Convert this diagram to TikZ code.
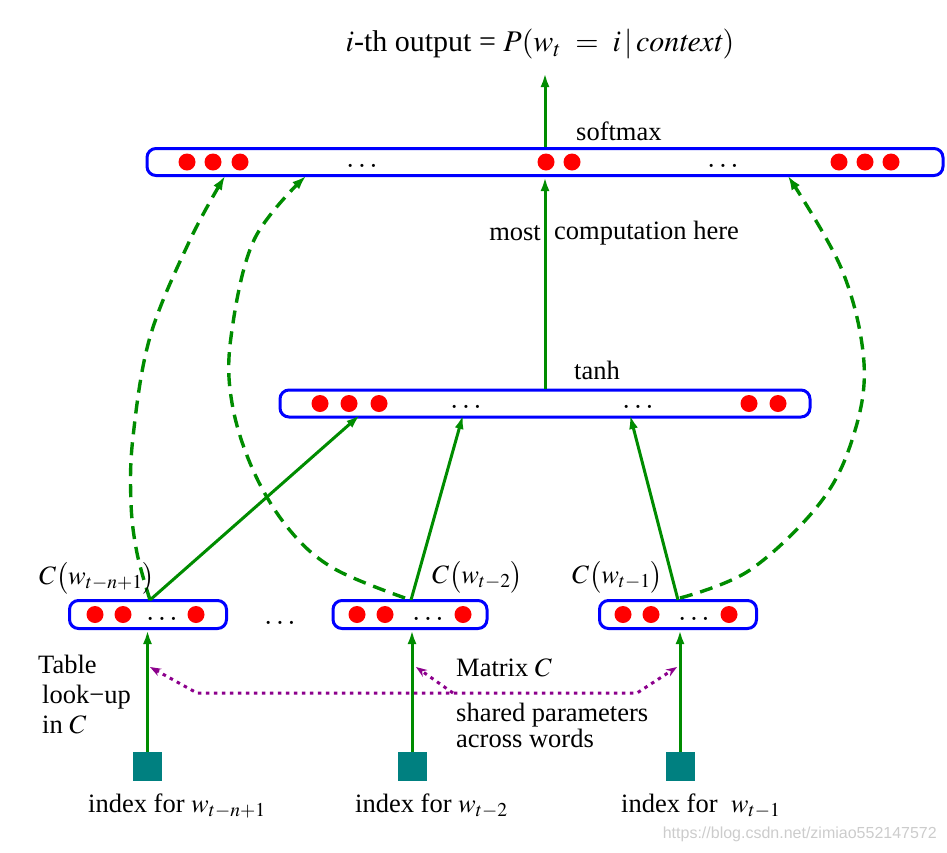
\documentclass[tikz,border=0pt]{standalone}
\usepackage{mathptmx}
\usepackage[no-math]{fontspec}
\setmainfont{Liberation Serif}
\newfontfamily\wmfont{Liberation Sans}
\usetikzlibrary{arrows.meta}
\definecolor{gr}{RGB}{0,140,0}
\definecolor{bl}{RGB}{0,0,255}
\definecolor{pu}{RGB}{140,0,140}
\definecolor{tl}{RGB}{0,128,128}
\begin{document}
\begin{tikzpicture}[x=1pt,y=-1pt,
  layer/.style={draw=bl,line width=3pt,rounded corners=9pt,fill=white,inner sep=0pt},
  idxbox/.style={fill=tl,minimum width=29pt,minimum height=29pt,inner sep=0pt},
  garrow/.style={draw=gr,line width=3pt,-{Latex[length=14pt,width=9pt]}},
  gdash/.style={draw=gr,line width=3.4pt,dash pattern=on 13pt off 8pt,-{Latex[length=14pt,width=10pt]}},
  parrow/.style={draw=pu,line width=3pt,dash pattern=on 3.5pt off 4.5pt},
  lbl/.style={font=\fontsize{26.5}{30}\selectfont,inner sep=0pt},
  dotsl/.style={font=\fontsize{30}{30}\selectfont,inner sep=0pt},
  unit/.style={fill=red}]
\useasboundingbox (0,0) rectangle (947,852);

% layers
\node[layer,minimum width=796pt,minimum height=27pt] (softmax) at (545,162) {};
\node[layer,minimum width=530pt,minimum height=27pt] (tanh) at (545,403.5) {};
\node[layer,minimum width=157pt,minimum height=28pt] (emb1) at (148,614.5) {};
\node[layer,minimum width=154pt,minimum height=28pt] (emb2) at (410,614.5) {};
\node[layer,minimum width=157pt,minimum height=28pt] (emb3) at (678,614.5) {};

% units
\foreach \x in {187,213,240,546,572,839,865,891} \fill[unit] (\x,162) circle[radius=8.5pt];
\foreach \x in {320,349,379,749,778} \fill[unit] (\x,403.5) circle[radius=8.5pt];
\foreach \x in {95,123,196} \fill[unit] (\x,614.5) circle[radius=8.5pt];
\foreach \x in {357,385,463} \fill[unit] (\x,614.5) circle[radius=8.5pt];
\foreach \x in {623,651,729} \fill[unit] (\x,614.5) circle[radius=8.5pt];

% ellipsis dots
\node[dotsl] (d1) at (362,166) {$\ldots$};
\node[dotsl] (d2) at (723,166) {$\ldots$};
\node[dotsl] (d3) at (466,407) {$\ldots$};
\node[dotsl] (d4) at (638,407) {$\ldots$};
\node[dotsl] (d5) at (162,619) {$\ldots$};
\node[dotsl] (d6) at (428,619) {$\ldots$};
\node[dotsl] (d7) at (694,619) {$\ldots$};
\node[dotsl] (d8) at (280,623) {$\ldots$};

% index squares
\node[idxbox] (idx1) at (147.5,766.5) {};
\node[idxbox] (idx2) at (412,766.5) {};
\node[idxbox] (idx3) at (680,766.5) {};

% look-up arrows
\draw[garrow] (idx1.north) -- (idx1.north |- emb1.south);
\draw[garrow] (idx2.north) -- (idx2.north |- emb2.south);
\draw[garrow] (idx3.north) -- (idx3.north |- emb3.south);

% embeddings to tanh
\coordinate (t1) at (360,415);
\coordinate (t2) at (463,415);
\coordinate (t3) at (630,415);
\coordinate (e1) at (150,600);
\coordinate (e2) at (411,600);
\coordinate (e3) at (678,600);
\draw[garrow] (e1) -- (t1);
\draw[garrow] (e2) -- (t2);
\draw[garrow] (e3) -- (t3);

% tanh to softmax, softmax to output
\coordinate (out) at (545,73);
\draw[garrow] (tanh.north) -- (softmax.south);
\draw[garrow] (softmax.north) -- (out);

% direct (dashed) connections
\coordinate (s1) at (225,176);
\coordinate (s2) at (306,176);
\coordinate (s3) at (788,176);
\draw[gdash] plot[smooth,tension=0.6] coordinates {(150,600) (137,553) (131,503) (133,437) (150,337) (190,240) (225,176)};
\draw[gdash] plot[smooth,tension=0.6] coordinates {(405,598) (333,568) (288,528) (253,470) (232,403) (231,337) (254,240) (306,176)};
\draw[gdash] plot[smooth,tension=0.6] coordinates {(680,598) (750,570) (820,503) (853,437) (864,363) (842,270) (788,176)};

% shared parameters (purple)
\coordinate (pL) at (197,693);
\coordinate (pM) at (453,693);
\coordinate (pR) at (637,693);
\coordinate (qL) at (150,667);
\coordinate (qM) at (416,667);
\coordinate (qR) at (677,667);
\draw[parrow,{Stealth[length=11pt,width=8pt]}-{Stealth[length=11pt,width=8pt]}] (qL) -- (pL) -- (pR) -- (qR);
\draw[parrow,-{Stealth[length=11pt,width=8pt]}] (pM) -- (qM);

% labels
\node[lbl,font=\fontsize{30}{34}\selectfont] (title) at (540,44) {$i$-th output = $P(w_t\ =\ i\,|\,\mathit{context})$};
\node[lbl,anchor=west] (lsoft) at (576,131) {softmax};
\node[lbl,anchor=west] (ltanh) at (574,370) {tanh};
\node[lbl,anchor=east] (lmost) at (541,233) {most};
\node[lbl,anchor=west] (lcomp) at (554,233) {computation here};
\node[lbl] (lc1) at (97,578) {$C\bigl(w_{t-n+1}\bigr)$};
\node[lbl,anchor=west] (lc2) at (432,577) {$C\bigl(w_{t-2}\bigr)$};
\node[lbl,anchor=west] (lc3) at (572,577) {$C\bigl(w_{t-1}\bigr)$};
\node[lbl,anchor=north west,align=left] (ltab) at (38,655) {Table\\\hspace*{4pt}look−up\\\hspace*{4pt}in $C$};
\node[lbl,anchor=west] (lmat) at (456,668) {Matrix $C$};
\node[lbl,anchor=north west,align=left,font=\fontsize{26.5}{26}\selectfont] (lshared) at (456,703) {shared parameters\\across words};
\node[lbl,anchor=west] (li1) at (88,806) {index for $w_{t-n+1}$};
\node[lbl,anchor=west] (li2) at (355,806) {index for $w_{t-2}$};
\node[lbl,anchor=west] (li3) at (621,806) {index for \ $w_{t-1}$};
\node[inner sep=0pt,anchor=east,text=black!20,font=\wmfont\fontsize{16}{18}\selectfont] (wm) at (937,834) {https://blog.csdn.net/zimiao552147572};
\end{tikzpicture}
\end{document}
